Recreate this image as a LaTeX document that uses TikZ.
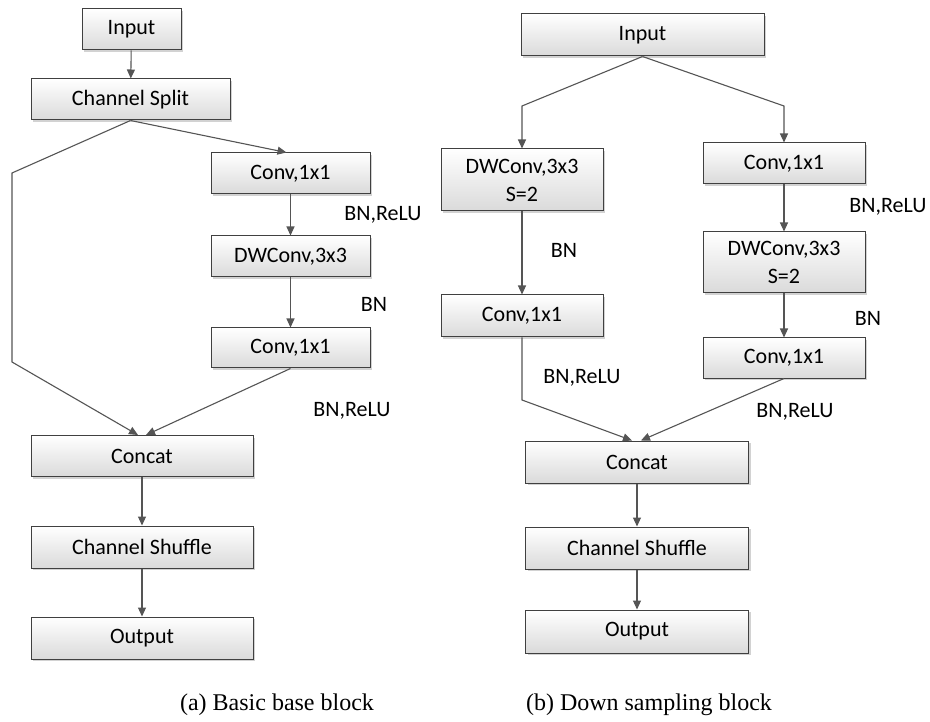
\documentclass[tikz,border=0pt]{standalone}
\usepackage{fontspec}
\setmainfont{Liberation Serif}
\newfontfamily\boxfont{Carlito}
\usetikzlibrary{arrows.meta,shadows,calc}
\definecolor{boxborder}{HTML}{404040}
\definecolor{boxbot}{HTML}{DADADA}
\definecolor{linecol}{HTML}{555555}
\begin{document}
\begin{tikzpicture}[x=1pt,y=-1pt,
  blk/.style={draw=boxborder, line width=1pt, top color=white, bottom color=boxbot,
    drop shadow={shadow xshift=2pt, shadow yshift=-2pt, opacity=0.35},
    inner sep=0pt, align=center, font=\boxfont\fontsize{22}{28}\selectfont},
  lbl/.style={inner sep=0pt, font=\boxfont\fontsize{22}{28}\selectfont},
  captxt/.style={inner sep=0pt, font=\fontsize{24}{28}\selectfont},
  arr/.style={draw=linecol, line width=1.1pt, -{Triangle[length=9pt,width=8pt]}},
  ln/.style={draw=linecol, line width=1.1pt}]
\useasboundingbox (0,0) rectangle (930,722);
\fill[white] (0,0) rectangle (930,722);
% ---------- left block ----------
\node[blk, minimum width=99pt, minimum height=41pt] (inA) at (131.5,29.5) {Input};
\node[blk, minimum width=199pt, minimum height=41pt] (split) at (130.5,99.5) {Channel Split};
\node[blk, minimum width=159pt, minimum height=41pt] (c1a) at (290.5,173.5) {Conv,1x1};
\node[blk, minimum width=159pt, minimum height=41pt] (dwa) at (290.5,256.5) {DWConv,3x3};
\node[blk, minimum width=159pt, minimum height=40pt] (c2a) at (290.5,348) {Conv,1x1};
\node[blk, minimum width=222pt, minimum height=41pt] (concatA) at (142,456) {Concat};
\node[blk, minimum width=222pt, minimum height=42pt] (shufA) at (142,547) {Channel Shuffle};
\node[blk, minimum width=222pt, minimum height=42pt] (outA) at (142,638) {Output};
\coordinate (bpa1) at (12,173);
\coordinate (bpa2) at (12,362);
\draw[arr] (inA) -- (split);
\draw[arr] (split.south) -- ([xshift=-4pt]c1a.north);
\draw[arr] (split.south) -- (bpa1) -- (bpa2) -- ([xshift=-4pt]concatA.north);
\draw[arr] (c1a) -- (dwa);
\draw[arr] (dwa) -- (c2a);
\draw[arr] (c2a.south) -- ([xshift=4pt]concatA.north);
\draw[arr] (concatA) -- (shufA);
\draw[arr] (shufA) -- (outA);
\node[lbl] (l1a) at (383,215) {BN,ReLU};
\node[lbl] (l2a) at (374,304) {BN};
\node[lbl] (l3a) at (352,411) {BN,ReLU};
% ---------- right block ----------
\node[blk, minimum width=243pt, minimum height=42pt] (inB) at (642.5,35) {Input};
\node[blk, minimum width=162pt, minimum height=62pt] (dwb) at (522,180) {DWConv,3x3\\S=2};
\node[blk, minimum width=162pt, minimum height=42pt] (c1b) at (522,316) {Conv,1x1};
\node[blk, minimum width=162pt, minimum height=41pt] (c1c) at (784,163.5) {Conv,1x1};
\node[blk, minimum width=162pt, minimum height=61pt] (dwc) at (784,262.5) {DWConv,3x3\\S=2};
\node[blk, minimum width=162pt, minimum height=40pt] (c2c) at (784,358) {Conv,1x1};
\node[blk, minimum width=223pt, minimum height=42pt] (concatB) at (637,462) {Concat};
\node[blk, minimum width=223pt, minimum height=42pt] (shufB) at (637,548) {Channel Shuffle};
\node[blk, minimum width=223pt, minimum height=43pt] (outB) at (637,631.5) {Output};
\coordinate (bbl) at (522,106);
\coordinate (bbr) at (784,106);
\coordinate (bbd) at (522,400);
\draw[arr] (inB.south) -- (bbl) -- (dwb.north);
\draw[arr] (inB.south) -- (bbr) -- (c1c.north);
\draw[arr] (dwb) -- (c1b);
\draw[arr] (c1b.south) -- (bbd) -- ([xshift=-5pt]concatB.north);
\draw[arr] (c1c) -- (dwc);
\draw[arr] (dwc) -- (c2c);
\draw[arr] (c2c.south) -- ([xshift=4pt]concatB.north);
\draw[arr] (concatB) -- (shufB);
\draw[arr] (shufB) -- (outB);
\node[lbl] (l1b) at (564,250) {BN};
\node[lbl] (l2b) at (582,378) {BN,ReLU};
\node[lbl] (l1c) at (888,207) {BN,ReLU};
\node[lbl] (l2c) at (868,318) {BN};
\node[lbl] (l3c) at (795,412) {BN,ReLU};
% ---------- captions ----------
\node[captxt] (capA) at (277,705) {(a) Basic base block};
\node[captxt] (capB) at (649,705) {(b) Down sampling block};
\end{tikzpicture}
\end{document}
